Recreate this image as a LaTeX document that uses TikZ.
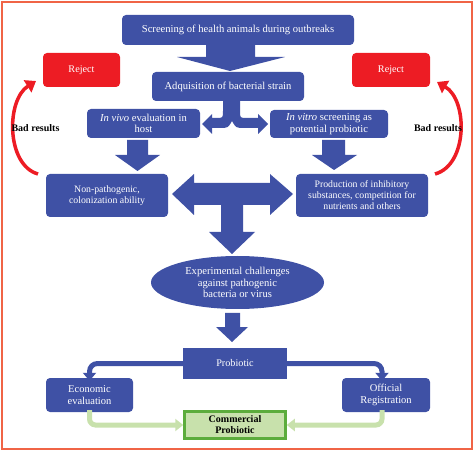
\documentclass[tikz,border=0pt]{standalone}
\usepackage{fontspec}
\setmainfont{Liberation Serif}
\usepackage{tikz}
\usetikzlibrary{shapes.geometric,arrows.meta}

\definecolor{myblue}{RGB}{63,81,165}
\definecolor{myred}{RGB}{237,28,36}
\definecolor{lgreen}{RGB}{200,225,172}
\definecolor{dgreen}{RGB}{92,172,60}
\definecolor{framecol}{RGB}{240,100,70}

\tikzset{
  bbox/.style={fill=myblue, rounded corners=4pt, text=white, align=center, inner sep=0pt,
    font=\fontsize{10.6}{11.5}\selectfont},
  sbox/.style={bbox, font=\fontsize{9.8}{11}\selectfont},
  rbox/.style={fill=myred, rounded corners=4pt, text=white, inner sep=0pt,
    font=\fontsize{10.2}{11.5}\selectfont},
  blk/.style={fill=myblue},
  bline/.style={draw=myblue, line width=5pt, rounded corners=8pt, -{Triangle[width=13pt,length=8pt]}},
  gline/.style={draw=lgreen, line width=5pt, rounded corners=6pt, -{Triangle[width=12pt,length=8pt]}},
  rline/.style={draw=myred, line width=3.5pt, -{Triangle[width=14pt,length=10pt]}},
  badlab/.style={font=\fontsize{10}{11.5}\selectfont\bfseries, inner sep=0pt}
}

\begin{document}
\begin{tikzpicture}[x=1pt, y=-1pt]
  \useasboundingbox (0,0) rectangle (475,452);
  % outer frame
  \draw[framecol, line width=1.5pt] (2,2) rectangle (472,449);

  % main boxes
  \node[bbox, minimum width=232, minimum height=30] (scr) at (238,30) {Screening of health animals during outbreaks};
  \node[bbox, minimum width=152, minimum height=29] (adq) at (228,86.5) {Adquisition of bacterial strain};
  \node[bbox, minimum width=113, minimum height=29] (vivo) at (143.5,123.5) {\textit{In vivo} evaluation in\\host};
  \node[bbox, minimum width=118, minimum height=28] (vitro) at (329,124) {\textit{In vitro} screening as\\potential probiotic};
  \node[sbox, minimum width=122, minimum height=43] (nonp) at (107,195.5) {Non-pathogenic,\\colonization ability};
  \node[sbox, minimum width=132, minimum height=43] (prod) at (362,195.5) {Production of inhibitory\\substances, competition for\\nutrients and others};
  \node[bbox, ellipse, minimum width=173, minimum height=53] (exp) at (237.5,282.5) {Experimental challenges\\against pathogenic\\bacteria or virus};
  \node[bbox, rounded corners=0pt, minimum width=104, minimum height=31, font=\fontsize{10.2}{11.5}\selectfont] (prob) at (235,363.5) {Probiotic};
  \node[bbox, minimum width=87, minimum height=34, font=\fontsize{10.5}{11.5}\selectfont] (econ) at (89.5,395) {Economic\\evaluation};
  \node[bbox, minimum width=88, minimum height=34, font=\fontsize{10.5}{11.5}\selectfont] (offi) at (386,395) {Official\\Registration};
  \node[fill=lgreen, draw=dgreen, line width=2.5pt, align=center, inner sep=0pt,
    minimum width=101, minimum height=27, font=\fontsize{10}{11}\selectfont\bfseries] (comm) at (235,425) {Commercial\\Probiotic};

  % reject boxes
  \node[rbox, minimum width=77, minimum height=34] (rejL) at (81.5,70) {Reject};
  \node[rbox, minimum width=78, minimum height=34] (rejR) at (391,70) {Reject};

  % block arrows
  \fill[blk] (206,45) -- (255,45) -- (255,57) -- (285,57) -- (230,71) -- (177,57) -- (206,57) -- cycle;
  \fill[blk] (223,101) -- (240,101) -- (240,111) .. controls (240,118) .. (247,118) -- (258,118) -- (258,114)
    -- (268,124) -- (258,134) -- (258,128) -- (245,128) .. controls (236,128) .. (232,121)
    .. controls (228,128) .. (219,128) -- (212,128) -- (212,134) -- (202,124) -- (212,114)
    -- (212,118) -- (216,118) .. controls (223,118) .. (223,111) -- cycle;
  \fill[blk] (127,140) -- (148,140) -- (148,155) -- (160,155) -- (137.5,171) -- (115,155) -- (127,155) -- cycle;
  \fill[blk] (322,140) -- (345,140) -- (345,155) -- (357,155) -- (334,170) -- (312,155) -- (322,155) -- cycle;
  \fill[blk] (194,183) -- (270,183) -- (270,174) -- (293,194) -- (270,215) -- (270,205) -- (243,205)
    -- (243,232) -- (255,232) -- (232,254) -- (209,232) -- (221,232) -- (221,205) -- (194,205)
    -- (194,215) -- (172,194) -- (194,174) -- cycle;
  \fill[blk] (225,313) -- (240,313) -- (240,327) -- (248,327) -- (232,342) -- (216,327) -- (225,327) -- cycle;

  % probiotic branches
  \draw[bline] (prob.west) -| ([yshift=-3pt]econ.north);
  \draw[bline] (prob.east) -| ([shift={(-4pt,-3pt)}]offi.north);
  \draw[gline] ([yshift=2pt]econ.south) |- (comm.west);
  \draw[gline] ([shift={(-4pt,2pt)}]offi.south) |- (comm.east);

  % bad results loops
  \coordinate (endL) at (38,174);
  \coordinate (tipL) at (36,81);
  \coordinate (endR) at (435,174);
  \coordinate (tipR) at (437,82);
  \draw[rline] (endL) .. controls (6,165) and (6,100) .. (tipL);
  \draw[rline] (endR) .. controls (468,165) and (468,100) .. (tipR);
  \node[badlab] (badL) at (35.5,128) {Bad results};
  \node[badlab] (badR) at (438,128) {Bad results};
\end{tikzpicture}
\end{document}
